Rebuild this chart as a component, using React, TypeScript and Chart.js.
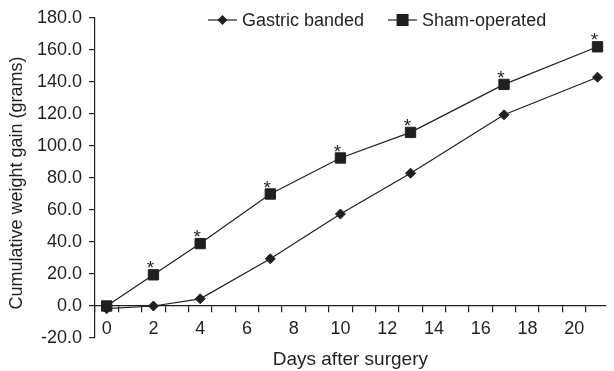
import React, { useEffect, useRef } from 'react';
import { Chart, registerables } from 'chart.js';

Chart.register(...registerables);

// ---- data ----
const days = [0, 2, 4, 7, 10, 13, 17, 21];
const gastricBanded = [-1.7, 0, 4.5, 29.5, 57.5, 83, 119.5, 143];
const shamOperated = [0, 19.5, 39, 70, 92.5, 108.5, 138.5, 162];
const significant = [false, true, true, true, true, true, true, true];
const seriesLabels = ['Gastric banded', 'Sham-operated'];
const xTickLabels = [0, 2, 4, 6, 8, 10, 12, 14, 16, 18, 20];
const yTicks = [-20, 0, 20, 40, 60, 80, 100, 120, 140, 160, 180];
const xAxisTitle = 'Days after surgery';
const yAxisTitle = 'Cumulative weight gain (grams)';

const INK = '#231f20';
const FONT = '"Liberation Sans", Arial, Helvetica, sans-serif';

const legendPlugin = {
  id: 'customLegend',
  afterDraw(chart: any) {
    const ctx = chart.ctx as CanvasRenderingContext2D;
    ctx.save();
    ctx.font = `18px ${FONT}`;
    ctx.fillStyle = INK;
    ctx.strokeStyle = INK;
    ctx.textBaseline = 'middle';
    ctx.textAlign = 'left';
    let x = 208;
    const y = 20;
    chart.data.datasets.forEach((ds: any) => {
      const lineLen = 29;
      ctx.lineWidth = 1.2;
      ctx.beginPath();
      ctx.moveTo(x, y);
      ctx.lineTo(x + lineLen, y);
      ctx.stroke();
      const cx = x + lineLen / 2;
      ctx.beginPath();
      if (ds.pointStyle === 'rect') {
        const h = 6;
        ctx.rect(cx - h, y - h, 2 * h, 2 * h);
      } else {
        const r = 5;
        ctx.moveTo(cx, y - r);
        ctx.lineTo(cx + r, y);
        ctx.lineTo(cx, y + r);
        ctx.lineTo(cx - r, y);
        ctx.closePath();
      }
      ctx.fill();
      ctx.fillText(ds.label, x + lineLen + 5, y + 1);
      x += lineLen + 5 + ctx.measureText(ds.label).width + 24;
    });
    ctx.restore();
  },
};

const asteriskPlugin = {
  id: 'asterisks',
  afterDatasetsDraw(chart: any) {
    const ctx = chart.ctx as CanvasRenderingContext2D;
    const meta = chart.getDatasetMeta(1);
    ctx.save();
    ctx.font = `19px ${FONT}`;
    ctx.fillStyle = INK;
    ctx.textAlign = 'center';
    ctx.textBaseline = 'alphabetic';
    meta.data.forEach((pt: any, i: number) => {
      if (significant[i]) ctx.fillText('*', pt.x - 3, pt.y - 0.5);
    });
    ctx.restore();
  },
};

export default function App() {
  const ref = useRef<HTMLCanvasElement | null>(null);
  useEffect(() => {
    document.body.style.margin = '0';
    if (!ref.current) return;
    Chart.defaults.font.family = FONT;
    Chart.defaults.color = INK;
    const chart = new Chart(ref.current, {
      type: 'line',
      data: {
        datasets: [
          {
            label: seriesLabels[0],
            data: days.map((d, i) => ({ x: d, y: gastricBanded[i] })),
            borderColor: INK,
            backgroundColor: INK,
            borderWidth: 1.2,
            pointStyle: 'rectRot',
            pointRadius: 5,
            pointBorderWidth: 1,
            pointBackgroundColor: INK,
            pointBorderColor: INK,
            tension: 0,
            order: 1,
          },
          {
            label: seriesLabels[1],
            data: days.map((d, i) => ({ x: d, y: shamOperated[i] })),
            borderColor: INK,
            backgroundColor: INK,
            borderWidth: 1.2,
            pointStyle: 'rect',
            pointRadius: 7.3,
            pointBorderWidth: 1,
            pointBackgroundColor: INK,
            pointBorderColor: INK,
            tension: 0,
            order: 0,
          },
        ],
      },
      options: {
        animation: false,
        responsive: false,
        devicePixelRatio: 1,
        layout: { padding: { top: 18, bottom: 33, left: 0, right: 0 } },
        plugins: {
          legend: { display: false },
          tooltip: { enabled: false },
        },
        scales: {
          x: {
            type: 'linear',
            position: { y: 0 } as any,
            min: -0.5,
            max: 21.35,
            afterBuildTicks: (scale: any) => {
              const t = [];
              for (let v = -0.5; v <= 21; v += 0.5) t.push({ value: v });
              scale.ticks = t;
            },
            ticks: {
              autoSkip: false,
              maxRotation: 0,
              padding: 6,
              font: { size: 18 },
              color: INK,
              callback: (value: any) => (xTickLabels.includes(Number(value)) ? String(value) : ''),
            },
            grid: {
              drawOnChartArea: false,
              drawTicks: true,
              tickLength: 6,
              lineWidth: 1.2,
              color: (c: any) =>
                c.tick && !Number.isInteger(c.tick.value) ? INK : 'rgba(0,0,0,0)',
            },
            border: { display: true, color: INK, width: 1.2 },
            title: {
              display: true,
              text: xAxisTitle,
              font: { size: 19 },
              color: INK,
              padding: { top: 3, bottom: 0 },
            },
          },
          y: {
            type: 'linear',
            position: 'left',
            min: -20,
            max: 180,
            afterBuildTicks: (scale: any) => {
              scale.ticks = yTicks.map((v) => ({ value: v }));
            },
            afterFit: (scale: any) => {
              scale.width = 95;
            },
            ticks: {
              padding: 7,
              font: { size: 18 },
              color: INK,
              callback: (value: any) => Number(value).toFixed(1),
            },
            grid: {
              drawOnChartArea: false,
              drawTicks: true,
              tickLength: 6,
              lineWidth: 1.2,
              color: INK,
            },
            border: { display: true, color: INK, width: 1.2 },
            title: {
              display: true,
              text: yAxisTitle + '\u00a0\u00a0',
              font: { size: 18 },
              color: INK,
              padding: { top: 6, bottom: 0 },
            },
          },
        },
      },
      plugins: [legendPlugin, asteriskPlugin],
    });
    return () => chart.destroy();
  }, []);
  return (
    <div style={{ width: 614, height: 371 }}>
      <canvas ref={ref} width={614} height={371} style={{ display: 'block' }} />
    </div>
  );
}
